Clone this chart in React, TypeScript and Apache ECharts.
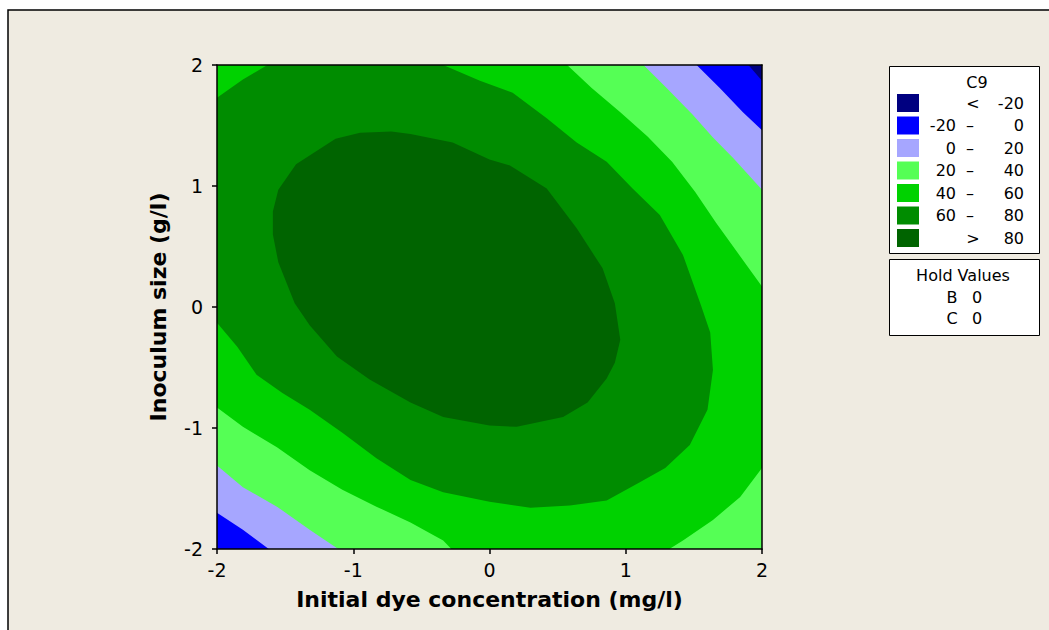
import React, { useEffect, useRef } from "react";
import * as echarts from "echarts";

// Axis ticks (coded factor levels)
const xTicks = [-2, -1, 0, 1, 2];
const yTicks = [-2, -1, 0, 1, 2];

// Contour levels and fill colours (lowest band first)
const levels = [-20, 0, 20, 40, 60, 80];
const bandColors = ["#000080", "#0000ff", "#a6a6ff", "#55ff55", "#00d200", "#008c00", "#006400"];

// Contour lines, in data coordinates [x, y]
const cM20Top = [[1.9, 2.0], [2.0, 1.87]];
const c0Top = [[1.52, 2.0], [1.69, 1.81], [1.86, 1.61], [2.0, 1.46]];
const c0Left = [[-2.0, -1.7], [-1.81, -1.84], [-1.62, -2.0]];
const c20Top = [[1.13, 2.0], [1.3, 1.81], [1.49, 1.59], [1.64, 1.4], [1.79, 1.23], [2.0, 0.97]];
const c20Left = [[-2.0, -1.31], [-1.81, -1.49], [-1.56, -1.65], [-1.32, -1.84], [-1.11, -2.0]];
const c40Top = [[0.57, 2.0], [0.75, 1.81], [0.96, 1.61], [1.16, 1.41], [1.34, 1.2], [1.51, 0.95], [1.66, 0.7], [1.82, 0.45], [2.0, 0.17]];
const c40Right = [[2.0, -1.33], [1.84, -1.57], [1.64, -1.76], [1.42, -1.93], [1.32, -2.0]];
const c40Left = [[-2.0, -0.83], [-1.81, -0.99], [-1.56, -1.16], [-1.32, -1.35], [-1.08, -1.51], [-0.83, -1.65], [-0.58, -1.78], [-0.34, -1.93], [-0.28, -2.0]];
const c60 = [[-0.34, 2.0], [-0.07, 1.87], [0.17, 1.77], [0.42, 1.56], [0.64, 1.36], [0.86, 1.2], [1.05, 0.98], [1.25, 0.76], [1.42, 0.43], [1.55, 0.02], [1.62, -0.21], [1.64, -0.52], [1.6, -0.85], [1.47, -1.14], [1.29, -1.33], [1.1, -1.45], [0.86, -1.6], [0.59, -1.64], [0.3, -1.66], [0.0, -1.61], [-0.34, -1.53], [-0.58, -1.43], [-0.83, -1.25], [-1.08, -1.04], [-1.32, -0.85], [-1.52, -0.71], [-1.71, -0.56], [-1.85, -0.33], [-2.0, -0.13]];
const c60Corner = [[-2.0, 1.73], [-1.81, 1.88], [-1.63, 2.0]];
const c80 = [[-0.95, 1.44], [-0.72, 1.45], [-0.58, 1.43], [-0.27, 1.36], [0.0, 1.22], [0.15, 1.17], [0.42, 0.98], [0.64, 0.65], [0.83, 0.32], [0.92, 0.03], [0.96, -0.27], [0.92, -0.46], [0.86, -0.59], [0.72, -0.79], [0.54, -0.91], [0.2, -0.99], [0.0, -0.98], [-0.34, -0.91], [-0.58, -0.79], [-0.88, -0.6], [-1.12, -0.41], [-1.32, -0.15], [-1.43, 0.03], [-1.55, 0.37], [-1.59, 0.6], [-1.59, 0.79], [-1.55, 0.97], [-1.42, 1.18], [-1.13, 1.39]];

const legendTitle = "C9";
const holdFactors = ["B", "C"];
const holdValues = [0, 0];

export default function App() {
  const ref = useRef<HTMLDivElement>(null);

  useEffect(() => {
    document.body.style.margin = "0";
    const chart = echarts.init(ref.current!, null, { renderer: "svg" });
    const lo = xTicks[0], hi = xTicks[xTicks.length - 1];
    const ylo = yTicks[0], yhi = yTicks[yTicks.length - 1];
    const rev = (a: number[][]) => a.slice().reverse();

    const polys: number[][][] = [
      [[lo, ylo], [hi, ylo], [hi, yhi], [lo, yhi]],
      [[lo, ylo], [hi, ylo], ...rev(cM20Top), [lo, yhi]],
      [[hi, ylo], ...rev(c0Top), [lo, yhi], ...c0Left],
      [[hi, ylo], ...rev(c20Top), [lo, yhi], ...c20Left],
      [[lo, yhi], ...c40Top, ...c40Right, ...rev(c40Left)],
      [...c60, ...c60Corner],
      c80,
    ];

    const font = '"DejaVu Sans", Verdana, sans-serif';
    const g: any[] = [];
    // outer frame
    g.push({ type: "rect", z: -10, shape: { x: 8, y: 10, width: 1100, height: 700 }, style: { fill: "#efebe1", stroke: "#000", lineWidth: 1.5 } });
    // legend boxes
    g.push({ type: "rect", z: 5, shape: { x: 889.5, y: 66.5, width: 150, height: 187 }, style: { fill: "#fff", stroke: "#000", lineWidth: 1 } });
    g.push({ type: "rect", z: 5, shape: { x: 889.5, y: 259.5, width: 150, height: 76 }, style: { fill: "#fff", stroke: "#000", lineWidth: 1 } });
    const ts = (text: string, x: number, y: number, align: string) => ({
      type: "text", z: 6, style: { text, x, y, fill: "#000", font: `16px ${font}`, textAlign: align, textVerticalAlign: "middle" },
    });
    g.push(ts(legendTitle, 977, 82, "center"));
    for (let i = 0; i < bandColors.length; i++) {
      const y = 103 + i * 22.5;
      g.push({ type: "rect", z: 6, shape: { x: 897, y: y - 9, width: 22, height: 18 }, style: { fill: bandColors[i] } });
      if (i === 0) {
        g.push(ts("<", 973, y, "center"));
        g.push(ts(String(levels[0]), 1024, y, "right"));
      } else if (i === bandColors.length - 1) {
        g.push(ts(">", 973, y, "center"));
        g.push(ts(String(levels[levels.length - 1]), 1024, y, "right"));
      } else {
        g.push(ts(String(levels[i - 1]), 956, y, "right"));
        g.push(ts("\u2013", 970, y, "center"));
        g.push(ts(String(levels[i]), 1024, y, "right"));
      }
    }
    g.push(ts("Hold Values", 963, 275, "center"));
    holdFactors.forEach((f, i) => {
      g.push(ts(f, 952, 297 + i * 21, "center"));
      g.push(ts(String(holdValues[i]), 977, 297 + i * 21, "center"));
    });

    const axisCommon = {
      type: "value",
      interval: 1,
      z: 10,
      splitLine: { show: false },
      axisLine: { show: true, onZero: false, lineStyle: { color: "#000", width: 1.5 } },
      axisTick: { show: true, inside: false, length: 5, lineStyle: { color: "#000", width: 1.5 } },
    };

    chart.setOption({
      animation: false,
      backgroundColor: "#ffffff",
      graphic: { elements: g },
      grid: { left: 217, top: 65, width: 545, height: 484, containLabel: false },
      xAxis: [
        {
          ...axisCommon, min: lo, max: hi, position: "bottom",
          name: "Initial dye concentration (mg/l)", nameLocation: "middle", nameGap: 39,
          nameTextStyle: { fontFamily: font, fontWeight: "bold", fontSize: 22, color: "#000" },
          axisLabel: { margin: 11, fontFamily: font, fontSize: 19, color: "#000" },
        },
        { ...axisCommon, min: lo, max: hi, position: "top", axisTick: { show: false }, axisLabel: { show: false } },
      ],
      yAxis: [
        {
          ...axisCommon, min: ylo, max: yhi, position: "left",
          name: "Inoculum size (g/l)", nameLocation: "middle", nameGap: 48,
          nameTextStyle: { fontFamily: font, fontWeight: "bold", fontSize: 22, color: "#000" },
          axisLabel: { margin: 14, fontFamily: font, fontSize: 19, color: "#000" },
        },
        { ...axisCommon, min: ylo, max: yhi, position: "right", axisTick: { show: false }, axisLabel: { show: false } },
      ],
      series: [
        {
          type: "custom",
          coordinateSystem: "cartesian2d",
          clip: true,
          silent: true,
          data: polys.map(() => [0, 0]),
          encode: { x: 0, y: 1 },
          renderItem: (params: any, api: any) => {
            const pts = polys[params.dataIndex].map((p) => api.coord(p));
            return { type: "polygon", shape: { points: pts }, style: { fill: bandColors[params.dataIndex] } };
          },
        },
      ],
    });
    return () => chart.dispose();
  }, []);

  return <div ref={ref} style={{ width: 1049, height: 630 }} />;
}
